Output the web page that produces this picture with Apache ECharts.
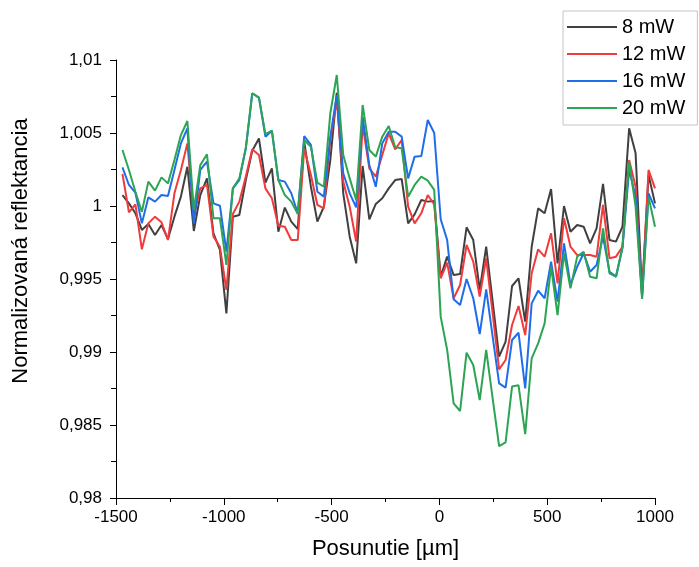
<!DOCTYPE html>
<html>
<head>
<meta charset="utf-8">
<script src="https://cdn.jsdelivr.net/npm/echarts@6/dist/echarts.min.js"></script>
<style>
  html, body { margin: 0; padding: 0; background: #fff; }
  #chart { width: 699px; height: 567px; }
</style>
</head>
<body>
<div id="chart"></div>
<script>
// poloha [µm]
const posunutie = [
  -1470, -1440, -1410, -1380, -1350, -1319, -1289, -1259, -1229, -1199,
  -1169, -1139, -1109, -1078, -1048, -1018, -988, -958, -928, -898,
  -868, -837, -807, -777, -747, -717, -687, -657, -627, -596,
  -566, -536, -506, -476, -446, -416, -386, -356, -325, -295,
  -265, -235, -205, -175, -145, -115, -84, -54, -24, 6,
  36, 66, 96, 126, 157, 187, 217, 247, 277, 307,
  337, 367, 398, 428, 458, 488, 518, 548, 578, 608,
  639, 669, 699, 729, 759, 789, 819, 849, 880, 910,
  940, 970, 1000
];

const mw8 = [
  1.00075, 1.00018, 0.99950, 0.99836, 0.99877, 0.99801, 0.99870, 0.99774, 0.99927, 1.00064,
  1.00269, 0.99829, 1.00075, 1.00189, 0.99813, 0.99699, 0.99265, 0.99927, 0.99938, 1.00178,
  1.00379, 1.00463, 1.00160, 1.00258, 0.99824, 0.99989, 0.99893, 0.99842, 1.00441, 1.00132,
  0.99893, 0.99995, 1.00315, 1.00776, 1.00087, 0.99790, 0.99607, 1.00274, 0.99909, 1.00014,
  1.00053, 1.00121, 1.00178, 1.00185, 0.99881, 0.99943, 1.00041, 1.00030, 1.00035, 0.99516,
  0.99653, 0.99527, 0.99534, 0.99854, 0.99767, 0.99425, 0.99721, 0.99345, 0.98968, 0.99071,
  0.99452, 0.99505, 0.99208, 0.99721, 0.99984, 0.99950, 1.00116, 0.99607, 1.00000, 0.99824,
  0.99870, 0.99858, 0.99744, 0.99847, 1.00151, 0.99767, 0.99756, 0.99858, 1.00532, 1.00361,
  0.99402, 1.00212, 1.00018
];

const mw12 = [
  1.00219, 0.99957, 1.00011, 0.99703, 0.99881, 0.99927, 0.99888, 0.99767, 1.00087, 1.00247,
  1.00429, 0.99927, 1.00121, 1.00144, 0.99790, 0.99721, 0.99425, 0.99945, 1.00030, 1.00201,
  1.00388, 1.00349, 1.00121, 1.00053, 0.99865, 0.99858, 0.99767, 0.99767, 1.00395, 1.00212,
  1.00007, 0.99984, 1.00452, 1.00726, 1.00167, 0.99995, 0.99756, 1.00555, 1.00258, 1.00201,
  1.00349, 1.00498, 1.00388, 1.00452, 0.99995, 0.99881, 0.99950, 1.00075, 1.00010, 0.99505,
  0.99612, 0.99368, 0.99459, 0.99733, 0.99619, 0.99379, 0.99642, 0.99265, 0.98881, 0.98945,
  0.99185, 0.99315, 0.99116, 0.99539, 0.99703, 0.99653, 0.99813, 0.99470, 0.99916, 0.99721,
  0.99664, 0.99664, 0.99664, 0.99653, 1.00007, 0.99642, 0.99653, 0.99721, 1.00315, 1.00132,
  0.99390, 1.00247, 1.00121
];

const mw16 = [
  1.00265, 1.00144, 1.00091, 0.99881, 1.00059, 1.00030, 1.00075, 1.00068, 1.00247, 1.00429,
  1.00532, 0.99881, 1.00247, 1.00304, 1.00018, 1.00002, 0.99687, 1.00121, 1.00178, 1.00395,
  1.00772, 1.00742, 1.00475, 1.00516, 1.00178, 1.00167, 1.00087, 0.99950, 1.00479, 1.00418,
  1.00098, 1.00064, 1.00475, 1.00760, 1.00224, 1.00087, 0.99991, 1.00612, 1.00281, 1.00132,
  1.00429, 1.00509, 1.00509, 1.00475, 1.00189, 1.00338, 1.00342, 1.00589, 1.00500, 0.99909,
  0.99767, 0.99361, 0.99322, 0.99500, 0.99368, 0.99123, 0.99429, 0.99105, 0.98785, 0.98756,
  0.99082, 0.99132, 0.98751, 0.99333, 0.99420, 0.99368, 0.99619, 0.99345, 0.99744, 0.99459,
  0.99584, 0.99676, 0.99550, 0.99596, 0.99790, 0.99550, 0.99516, 0.99710, 1.00247, 1.00064,
  0.99379, 1.00087, 0.99984
];

const mw20 = [
  1.00384, 1.00247, 1.00098, 0.99961, 1.00167, 1.00105, 1.00196, 1.00155, 1.00315, 1.00486,
  1.00582, 0.99973, 1.00281, 1.00354, 0.99916, 0.99916, 0.99596, 1.00121, 1.00189, 1.00395,
  1.00772, 1.00742, 1.00493, 1.00516, 1.00178, 1.00075, 1.00030, 0.99945, 1.00452, 1.00406,
  1.00160, 1.00132, 1.00635, 1.00897, 1.00349, 1.00189, 1.00041, 1.00692, 1.00384, 1.00338,
  1.00475, 1.00548, 1.00402, 1.00395, 1.00064, 1.00144, 1.00201, 1.00174, 1.00110, 0.99242,
  0.99014, 0.98648, 0.98596, 0.98995, 0.98911, 0.98671, 0.99014, 0.98683, 0.98356, 0.98381,
  0.98763, 0.98772, 0.98438, 0.98957, 0.99059, 0.99196, 0.99584, 0.99253, 0.99676, 0.99436,
  0.99653, 0.99687, 0.99516, 0.99505, 0.99847, 0.99539, 0.99516, 0.99721, 1.00304, 0.99995,
  0.99363, 1.00064, 0.99858
];

const nazvy = ['8 mW', '12 mW', '16 mW', '20 mW'];
const farby = ['#404040', '#f03a3c', '#1f6ee8', '#2ca454'];
const hodnoty = [mw8, mw12, mw16, mw20];

const font = 'Liberation Sans, Arial, sans-serif';

const chart = echarts.init(document.getElementById('chart'));

const series = hodnoty.map((arr, i) => ({
  name: nazvy[i],
  type: 'line',
  showSymbol: false,
  symbol: 'none',
  lineStyle: { width: 2, color: farby[i] },
  itemStyle: { color: farby[i] },
  data: arr.map((v, j) => [posunutie[j], v])
}));

chart.setOption({
  animation: false,
  backgroundColor: '#fff',
  grid: { left: 116, right: 44, top: 60, bottom: 69 },
  legend: {
    orient: 'vertical',
    left: 563,
    top: 11,
    padding: [6, 12, 7, 4],
    icon: 'rect',
    itemWidth: 50,
    itemHeight: 2,
    itemGap: 7,
    borderColor: '#c4c4c4',
    borderWidth: 1,
    textStyle: { fontFamily: font, fontSize: 20, color: '#000' },
    data: nazvy
  },
  xAxis: {
    type: 'value',
    min: -1500,
    max: 1000,
    interval: 500,
    name: 'Posunutie [µm]',
    nameLocation: 'middle',
    nameGap: 40,
    nameTextStyle: { fontFamily: font, fontSize: 22, color: '#000' },
    axisLine: { onZero: false, lineStyle: { color: '#000', width: 1 } },
    axisTick: { inside: false, length: 7, lineStyle: { color: '#000' } },
    minorTick: { show: true, splitNumber: 2, length: 4, lineStyle: { color: '#000' } },
    splitLine: { show: false },
    axisLabel: {
      margin: 11,
      fontFamily: font, fontSize: 17, color: '#000',
      formatter: v => String(v)
    }
  },
  yAxis: {
    type: 'value',
    min: 0.98,
    max: 1.01,
    interval: 0.005,
    name: 'Normalizovaná reflektancia',
    nameLocation: 'middle',
    nameGap: 84,
    nameTextStyle: { fontFamily: font, fontSize: 22, color: '#000', padding: [0, 0, 0, 56] },
    axisLine: { show: true, onZero: false, lineStyle: { color: '#000', width: 1 } },
    axisTick: { show: true, inside: false, length: 6, lineStyle: { color: '#000' } },
    minorTick: { show: true, splitNumber: 2, length: 5, lineStyle: { color: '#000' } },
    splitLine: { show: false },
    axisLabel: {
      margin: 14,
      fontFamily: font, fontSize: 17, color: '#000',
      formatter: v => String(+v.toFixed(4)).replace('.', ',')
    }
  },
  series: series
});
</script>
</body>
</html>
